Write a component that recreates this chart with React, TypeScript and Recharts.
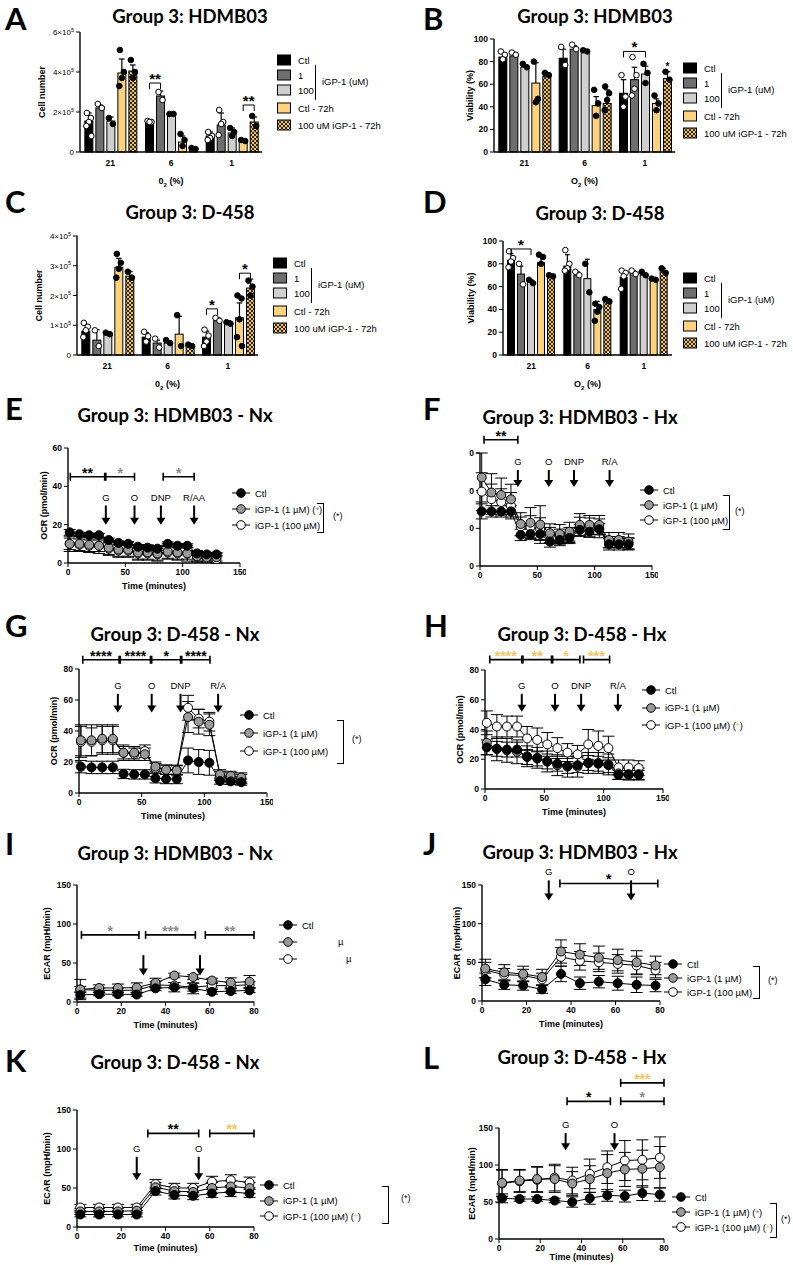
import React from 'react';
import { BarChart, Bar, LineChart, Line, XAxis, YAxis, ErrorBar, ReferenceLine } from 'recharts';

const AX = '"Liberation Sans", Arial, sans-serif';
const HEAD = 'Lato, "Open Sans", sans-serif';
const SIG_GREY = '#8a8a8a';
const SIG_ORANGE = '#f8c462';

// ---------- bar panels (A-D) ----------
const O2 = ['21', '6', '1'];
const BAR_NAMES = ['Ctl', '1', '100', 'Ctl - 72h', '100 uM iGP-1 - 72h'];
const BAR_FILLS = ['#000000', '#6e6e6e', '#cfcfcf', '#fdd27e', 'CHECK'];
const BAR_OPEN_DOTS = [true, true, false, false, false];

// A: cell number, units of 10^5 ; rows = series, cols = O2 groups
const A_MEAN = [[1.55, 1.5, 0.8], [2.2, 2.8, 1.35], [1.55, 1.9, 0.95], [3.95, 0.5, 0.55], [4.05, 0.15, 1.5]];
const A_SD = [[0.4, 0.08, 0.2], [0.15, 0.25, 0.6], [0.2, 0.05, 0.25], [0.7, 0.3, 0.05], [0.3, 0.05, 0.25]];
const A_PTS = [
  [[1.95, 1.7, 1.5, 1.3, 0.8], [1.55, 1.5, 1.5], [1.0, 0.8, 0.7, 0.6]],
  [[2.4, 2.2], [3.0, 2.6], [2.1, 1.5, 1.4, 0.85]],
  [[1.7, 1.4], [1.9, 1.9], [1.2, 1.0, 0.8]],
  [[5.1, 4.0, 3.7, 3.3], [0.9, 0.6, 0.3], [0.6, 0.55]],
  [[4.6, 4.0, 3.7], [0.2, 0.15], [1.8, 1.3]],
];
const A_SIG: [number, number, number, number, string][] = [[1, 0, 1, 3.45, '**'], [2, 3, 4, 2.35, '**']];

// B: viability %
const B_MEAN = [[84, 83, 52], [85, 91, 64], [75, 89, 69], [61, 41, 43], [67, 43, 65]];
const B_SD = [[4, 8, 12], [3, 3, 11], [2, 1, 7], [18, 8, 4], [1, 12, 6]];
const B_PTS = [
  [[89, 86, 82], [93, 77], [68, 49, 40]],
  [[88, 86], [95, 91], [84, 68, 56, 50]],
  [[78, 75], [90, 89], [78, 70, 61]],
  [[80, 47, 44], [55, 43, 32], [50, 43, 37]],
  [[70, 68], [58, 52, 46, 37], [71, 64]],
];
const B_SIG: [number, number, number, number, string][] = [[2, 0, 2, 89, '*'], [2, 4, 4, 76, '*']];

// C: cell number, units of 10^5
const C_MEAN = [[0.8, 0.6, 0.6], [0.5, 0.4, 1.15], [0.7, 0.4, 1.05], [2.95, 0.7, 1.25], [2.65, 0.3, 2.25]];
const C_SD = [[0.2, 0.15, 0.2], [0.35, 0.1, 0.1], [0.05, 0.05, 0.1], [0.3, 0.6, 0.5], [0.15, 0.05, 0.3]];
const C_PTS = [
  [[1.08, 0.95, 0.83, 0.6], [0.78, 0.63, 0.45], [0.85, 0.65, 0.45, 0.3]],
  [[0.83, 0.3], [0.55, 0.25], [1.25, 1.15]],
  [[0.75, 0.7], [0.5, 0.4], [1.1, 1.05]],
  [[3.4, 3.1, 2.9, 2.6], [1.34, 0.3], [2.0, 1.9, 1.2, 0.6, 0.3]],
  [[2.8, 2.6], [0.35, 0.3], [2.5, 2.3, 2.0]],
];
const C_SIG: [number, number, number, number, string][] = [[2, 0, 1, 1.55, '*'], [2, 3, 4, 2.75, '*']];

// D: viability %
const D_MEAN = [[83, 78, 68], [71, 70, 72], [64, 67, 70], [81, 40, 67], [69, 48, 73]];
const D_SD = [[6, 10, 5], [7, 3, 2], [2, 17, 2], [6, 7, 1], [1, 1, 3]];
const D_PTS = [
  [[91, 85, 82, 77], [92, 80, 76, 74], [74, 72, 69, 58]],
  [[80, 62], [73, 70], [74, 71]],
  [[66, 63], [80, 55], [73, 70]],
  [[88, 86, 80], [45, 42, 38, 30], [67, 66]],
  [[70, 69], [49, 47], [76, 72]],
];
const D_SIG: [number, number, number, number, string][] = [[0, 0, 2, 93, '*']];

// ---------- line panels (E-L) ----------
const T_OCR = [1.5, 10, 18.5, 27, 35.5, 44, 52.5, 61, 69.5, 78, 87, 95.5, 104, 112.5, 121, 129.5];
const T_ECAR = [1.5, 10, 18.5, 27, 35.5, 44, 52.5, 61, 69.5, 78];

const E_CTL = [16, 15, 14.5, 14.5, 12, 10.5, 10, 8.5, 8, 7.5, 10, 9, 9, 5, 4.5, 4.5];
const E_CTL_SD = [1.5, 1, 1, 1, 1, 1, 1, 1, 1, 1, 1, 1, 1, 1, 1, 1];
const E_G1 = [10, 10, 9.5, 9, 8, 7, 7, 5.5, 5.5, 5, 6, 5.5, 5, 3.5, 3, 3];
const E_G1_SD = [4, 4, 4, 4, 4, 4, 4, 4, 4, 4, 4, 4, 4, 3, 2, 2];
const E_G100 = [10, 9.5, 9, 9, 7.5, 6.5, 6.5, 5, 5, 4.5, 5.5, 5, 5, 3, 2.5, 2];
const E_G100_SD = [3, 3, 3, 3, 3, 3, 3, 3, 3, 3, 3, 3, 3, 2, 2, 2];

const F_CTL = [29, 29, 29, 29, 16.5, 17, 17, 13, 13.8, 14.9, 19.1, 18.2, 19.5, 11.5, 11.5, 11.5];
const F_CTL_SD = [4, 3, 3, 3, 3, 3, 3, 3, 3, 3, 3, 3, 3, 3, 3, 3];
const F_G1 = [47, 39, 37.7, 35.4, 22.3, 23, 22, 17.4, 17, 18.2, 21.8, 21.8, 21.8, 13.8, 13.8, 13];
const F_G1_SD = [13, 10, 9, 8, 6, 8, 10, 5, 5, 5, 6, 5, 5, 4, 4, 4];
const F_G100 = [39.5, 35.5, 34, 32, 21, 20.7, 19.6, 16.5, 15.6, 16.5, 20.9, 20.5, 20, 12.6, 12.6, 12];
const F_G100_SD = [10, 8, 7, 7, 5, 6, 6, 4, 4, 4, 5, 5, 5, 3, 3, 3];

const G_CTL = [17, 16.5, 16.5, 16.5, 12.3, 12, 12, 9.5, 9, 9, 21, 20, 19.5, 7.7, 7.5, 7];
const G_CTL_SD = [4, 4, 4, 4, 3, 3, 3, 3, 3, 3, 8, 8, 8, 2, 2, 2];
const G_G1 = [34, 34, 35, 35, 26, 26, 25, 17, 15, 14.5, 49, 46, 44, 12, 11, 10];
const G_G1_SD = [10, 10, 9, 9, 5, 4, 4, 3, 3, 3, 10, 8, 7, 3, 3, 3];
const G_G100 = [33, 33, 34, 34, 26, 25, 27, 16, 15, 15, 55, 48, 46, 11, 10, 9];
const G_G100_SD = [10, 9, 9, 9, 4, 4, 4, 3, 3, 3, 8, 6, 6, 3, 3, 3];

const H_CTL = [28, 27, 26.5, 26.5, 21.5, 20.5, 18.5, 17, 15.5, 16, 17.5, 17, 16, 9.5, 9.5, 9.5];
const H_CTL_SD = [5, 5, 5, 5, 5, 5, 5, 5, 5, 5, 5, 5, 5, 3, 3, 3];
const H_G1 = [31, 27, 26, 25, 22, 21, 18.5, 16, 15, 15, 17.5, 17.5, 16.5, 10.5, 10, 10];
const H_G1_SD = [8, 8, 8, 8, 7, 7, 7, 7, 7, 7, 7, 7, 7, 4, 4, 4];
const H_G100 = [44.5, 42, 42, 42, 34, 33, 30, 27.5, 24.5, 23.3, 30, 29, 27.5, 14.5, 14.5, 14];
const H_G100_SD = [8, 8, 7, 7, 8, 8, 8, 7, 6, 6, 10, 10, 8, 5, 5, 5];

const I_CTL = [9, 10, 10, 9.5, 17.5, 19, 17.5, 13, 14, 15];
const I_CTL_SD = [4, 2, 2, 2, 3, 6, 7, 3, 3, 3];
const I_G1 = [16, 18, 18, 18.5, 24.5, 34, 32, 27.5, 25, 26];
const I_G1_SD = [13, 4, 5, 6, 6, 3, 3, 3, 6, 8];
const I_G100 = [16, 15, 15, 15, 22, 21, 19, 21, 21, 22];
const I_G100_SD = [4, 3, 3, 3, 4, 4, 5, 3, 4, 4];

const J_CTL = [28, 21, 20, 15, 35, 23, 25, 23, 21, 20];
const J_CTL_SD = [8, 6, 6, 5, 10, 8, 8, 9, 10, 8];
const J_G1 = [42, 37, 35, 31, 64, 60, 56, 53, 50, 46];
const J_G1_SD = [12, 10, 10, 10, 15, 14, 15, 14, 15, 12];
const J_G100 = [40, 34, 33, 28, 57, 52, 50, 48, 46, 40];
const J_G100_SD = [10, 8, 8, 8, 12, 12, 12, 12, 12, 10];

const K_CTL = [16, 16, 16, 16, 46, 41, 40, 43, 45, 43];
const K_CTL_SD = [3, 3, 3, 3, 5, 5, 5, 5, 6, 5];
const K_G1 = [20, 20, 20, 21, 51, 46, 45, 50, 52, 50];
const K_G1_SD = [4, 4, 4, 4, 6, 6, 6, 7, 7, 7];
const K_G100 = [25, 25, 25, 25, 55, 50, 50, 58, 60, 57];
const K_G100_SD = [4, 4, 4, 4, 6, 6, 6, 7, 7, 7];

const L_CTL = [55, 54, 54, 52, 50, 55, 59, 58, 62, 60];
const L_CTL_SD = [6, 3, 3, 3, 7, 8, 8, 8, 10, 9];
const L_G1 = [76, 79, 81, 81, 75, 81, 89, 94, 95, 97];
const L_G1_SD = [18, 15, 17, 18, 16, 18, 25, 23, 25, 28];
const L_G100 = [75, 78, 80, 83, 79, 88, 97, 106, 107, 110];
const L_G100_SD = [18, 15, 17, 18, 18, 20, 22, 27, 27, 28];

// significance brackets: [t1, t2, y, label, colour]
type LSig = [number, number, number, string, string];
const E_SIG: LSig[] = [[2, 32, 45, '**', '#000'], [33, 58, 45, '*', SIG_GREY], [83, 110, 45, '*', SIG_GREY]];
const F_SIG: LSig[] = [[3.5, 33, 67, '**', '#000']];
const G_SIG: LSig[] = [[3, 32, 86, '****', '#000'], [33, 57, 86, '****', '#000'], [58, 81, 86, '*', '#000'], [82, 104.5, 86, '****', '#000']];
const H_SIG: LSig[] = [[4, 31, 87, '****', SIG_ORANGE], [32, 56, 87, '**', SIG_ORANGE], [57, 80, 87, '*', SIG_ORANGE], [83, 105, 87, '***', SIG_ORANGE]];
const I_SIG: LSig[] = [[2, 28, 86, '*', SIG_GREY], [31, 53.5, 86, '***', SIG_GREY], [58, 80, 86, '**', SIG_GREY]];
const J_SIG: LSig[] = [[35, 79, 152, '*', '#000']];
const K_SIG: LSig[] = [[32, 55, 120, '**', '#000'], [60, 80, 120, '**', SIG_ORANGE]];
const L_SIG: LSig[] = [[33, 54, 186, '*', '#000'], [59, 80, 186, '*', SIG_GREY], [59, 80, 211, '***', SIG_ORANGE]];

// injection arrows: [t, top, tip, label]
type Arr = [number, number, number, string];
const E_ARR: Arr[] = [[33, 30, 20, 'G'], [58, 30, 20, 'O'], [81, 30, 20, 'DNP'], [110, 30, 20, 'R/AA']];
const F_ARR: Arr[] = [[33, 51, 42, 'G'], [60, 51, 42, 'O'], [82, 51, 42, 'DNP'], [113, 51, 42, 'R/A']];
const G_ARR: Arr[] = [[31, 64, 52, 'G'], [58, 64, 52, 'O'], [81, 64, 52, 'DNP'], [111, 64, 52, 'R/A']];
const H_ARR: Arr[] = [[31, 64, 52, 'G'], [59, 64, 52, 'O'], [81, 64, 52, 'DNP'], [112, 64, 52, 'R/A']];
const I_ARR: Arr[] = [[30, 60, 34, ''], [55.6, 60, 34, '']];
const J_ARR: Arr[] = [[30, 156, 130, 'G'], [67, 156, 130, 'O']];
const K_ARR: Arr[] = [[27, 90, 60, 'G'], [55, 90, 60, 'O']];
const L_ARR: Arr[] = [[32.3, 143, 120, 'G'], [56, 143, 120, 'O']];

// ---------- shared bits ----------
const TICK = { fontSize: 8.5, fontWeight: 700, fill: '#000', fontFamily: AX };
const AXLINE = { stroke: '#000', strokeWidth: 1.4 };

function YTitle(props: any) {
  const vb = props.viewBox || { x: 0, y: 0, height: 0 };
  const x = vb.x + props.px;
  const y = vb.y + vb.height / 2;
  return (
    <text x={x} y={y} transform={`rotate(-90 ${x} ${y})`} textAnchor="middle" dominantBaseline="central"
      fontSize={9} fontWeight={700} fontFamily={AX} fill="#000">{props.text}</text>
  );
}

function XTitle(props: any) {
  const vb = props.viewBox || { x: 0, y: 0, width: 0 };
  const x = vb.x + vb.width / 2;
  const y = vb.y + props.dy;
  if (props.o2) {
    return (
      <text x={x} y={y} textAnchor="middle" fontSize={9} fontWeight={700} fontFamily={AX} fill="#000">
        {props.o2}<tspan fontSize={6} dy={3}>2</tspan><tspan dy={-3}> (%)</tspan>
      </text>
    );
  }
  return <text x={x} y={y} textAnchor="middle" fontSize={9} fontWeight={700} fontFamily={AX} fill="#000">{props.text}</text>;
}

function SciTick(props: any) {
  const { x, y, payload } = props;
  const v = payload.value;
  return (
    <text x={x} y={y} dy={3} textAnchor="end" fontSize={8} fontFamily={AX} fill="#000">
      {v === 0 ? '0' : `${v}×10`}{v !== 0 && <tspan dy={-3.5} fontSize={5.5}>5</tspan>}
    </text>
  );
}

function CheckPattern({ id }: { id: string }) {
  return (
    <pattern id={id} width={4} height={4} patternUnits="userSpaceOnUse">
      <rect width={4} height={4} fill="#f4bf55" />
      <rect x={0} y={0} width={2} height={2} fill="#2a2a3c" />
      <rect x={2} y={2} width={2} height={2} fill="#2a2a3c" />
    </pattern>
  );
}

const makeBarShape = (si: number, sigs: [number, number, number, number, string][], pid: string) => (p: any) => {
  const { x, y, width, height, payload } = p;
  const gi = O2.indexOf(payload.o2);
  const v = payload['m' + si];
  const k = v ? height / v : 0;
  const base = y + height;
  const cx = x + width / 2;
  const sd = payload['s' + si];
  const pts: number[] = payload['p' + si] || [];
  const fill = BAR_FILLS[si] === 'CHECK' ? `url(#chk-${pid})` : BAR_FILLS[si];
  const jit = [-2, 2, 0, -2.5, 2.5];
  const eTop = y - sd * k;
  const open = BAR_OPEN_DOTS[si];
  return (
    <g>
      <rect x={x} y={y} width={width} height={Math.max(height, 0)} fill={fill} stroke="#000" strokeWidth={1} />
      <line x1={cx} y1={y} x2={cx} y2={eTop} stroke="#000" strokeWidth={1.2} />
      <line x1={cx - width * 0.35} y1={eTop} x2={cx + width * 0.35} y2={eTop} stroke="#000" strokeWidth={1.2} />
      {pts.map((pv, i) => (
        <circle key={i} cx={cx + jit[i % 5]} cy={base - pv * k} r={2.8}
          fill={open ? '#fff' : '#000'} stroke="#000" strokeWidth={1} />
      ))}
      {sigs.filter(s => s[0] === gi && s[1] === si).map((s, i) => {
        const x2 = cx + (s[2] - s[1]) * (width + 3);
        const yb = base - s[3] * k;
        return (
          <g key={'s' + i}>
            {s[2] !== s[1] && (
              <path d={`M${cx},${yb + 6}V${yb}H${x2}V${yb + 6}`} stroke="#000" strokeWidth={1} fill="none" />
            )}
            <text x={(cx + x2) / 2} y={yb + (s[2] !== s[1] ? 1 : 4)} textAnchor="middle"
              fontSize={s[2] !== s[1] ? 15 : 10} fontWeight={700} fontFamily={AX} fill="#000">{s[4]}</text>
          </g>
        );
      })}
    </g>
  );
};

type BarPanelProps = {
  pid: string; plotL: number; plotT: number; plotR: number; plotB: number;
  mean: number[][]; sd: number[][]; pts: number[][][]; sigs: [number, number, number, number, string][];
  yMax: number; yTicks: number[]; sci: boolean; yTitle: string; yTitleX: number; o2: string;
};

function BarPanel(pp: BarPanelProps) {
  const YW = 48, XH = 40, TOPM = 12;
  const left = pp.plotL - YW;
  const top = pp.plotT - TOPM;
  const width = pp.plotR + 4 - left;
  const height = pp.plotB + XH - top;
  const rows = O2.map((o, g) => {
    const r: any = { o2: o };
    pp.mean.forEach((m, s) => {
      r['m' + s] = m[g];
      r['s' + s] = pp.sd[s][g];
      r['p' + s] = pp.pts[s][g];
    });
    return r;
  });
  return (
    <div style={{ position: 'absolute', left, top }}>
      <BarChart width={width} height={height} data={rows} barCategoryGap="8%" barGap={3}
        margin={{ top: TOPM, right: 4, bottom: 0, left: 0 }}>
        <defs><CheckPattern id={`chk-${pp.pid}`} /></defs>
        <XAxis dataKey="o2" height={XH} tick={TICK} tickLine={false} axisLine={AXLINE}
          label={<XTitle o2={pp.o2} dy={32} />} />
        <YAxis type="number" domain={[0, pp.yMax]} ticks={pp.yTicks} width={YW} interval={0}
          tick={pp.sci ? <SciTick /> : TICK} tickLine={{ stroke: '#000' }} tickSize={4} axisLine={AXLINE}
          label={<YTitle text={pp.yTitle} px={pp.yTitleX - left} />} />
        {BAR_NAMES.map((n, s) => (
          <Bar key={n} dataKey={'m' + s} name={n} isAnimationActive={false}
            shape={makeBarShape(s, pp.sigs, pp.pid)} />
        ))}
      </BarChart>
    </div>
  );
}

function BarLegend({ x, y, pid }: { x: number; y: number; pid: string }) {
  const offs = [0, 15, 30, 48, 65];
  return (
    <div style={{ position: 'absolute', left: x, top: y - 8, width: 120, height: 80, fontFamily: AX, fontSize: 9.5 }}>
      {BAR_NAMES.map((n, i) => (
        <div key={n} style={{ position: 'absolute', left: 0, top: offs[i], height: 16, display: 'flex', alignItems: 'center', whiteSpace: 'nowrap' }}>
          <svg width={15} height={12} style={{ marginRight: 6 }}>
            <defs><CheckPattern id={`lchk-${pid}`} /></defs>
            <rect x={0.5} y={1} width={13} height={10}
              fill={BAR_FILLS[i] === 'CHECK' ? `url(#lchk-${pid})` : BAR_FILLS[i]} stroke="#000" />
          </svg>
          {n}
        </div>
      ))}
      <div style={{ position: 'absolute', left: 38, top: 13, width: 0, height: 35, borderLeft: '1.5px solid #000' }} />
      <div style={{ position: 'absolute', left: 45, top: 24, whiteSpace: 'nowrap' }}>iGP-1 (uM)</div>
    </div>
  );
}

// ---------- line panel ----------
const arrowShape = (label: string) => (p: any) => {
  const { x1, y1, y2 } = p;
  return (
    <g>
      <line x1={x1} y1={y1} x2={x1} y2={y2 - 6} stroke="#000" strokeWidth={2} />
      <path d={`M${x1 - 4.5},${y2 - 7}L${x1 + 4.5},${y2 - 7}L${x1},${y2}Z`} fill="#000" />
      {label && <text x={x1} y={y1 - 5} textAnchor="middle" fontSize={9.5} fontFamily={AX} fill="#000">{label}</text>}
    </g>
  );
};

const bracketShape = (label: string, color: string) => (p: any) => {
  const { x1, x2, y1 } = p;
  return (
    <g>
      <path d={`M${x1},${y1 - 4}V${y1 + 4}M${x1},${y1}H${x2}M${x2},${y1 - 4}V${y1 + 4}`} stroke="#000" strokeWidth={1.6} fill="none" />
      <text x={(x1 + x2) / 2} y={y1 + 1} textAnchor="middle" fontSize={14} fontWeight={700} fontFamily={AX} fill={color}>{label}</text>
    </g>
  );
};

type LinePanelProps = {
  plotL: number; plotT: number; plotR: number; plotB: number; chartTop: number;
  xMax: number; xTicks: number[]; yMax: number; yTicks: number[]; zeroTicks?: boolean;
  yTitle?: string; yTitleX?: number; xTitle: boolean; xTitleDy?: number;
  t: number[]; ctl: number[]; ctlSd: number[]; g1: number[]; g1Sd: number[]; g100: number[]; g100Sd: number[];
  sigs: LSig[]; arrows: Arr[];
};

function LinePanel(pp: LinePanelProps) {
  const YW = 45, XH = 32;
  const left = pp.plotL - YW;
  const width = pp.plotR + 6 - left;
  const height = pp.plotB + XH - pp.chartTop;
  const rows = pp.t.map((tt, i) => ({
    t: tt, c: pp.ctl[i], ce: pp.ctlSd[i], g: pp.g1[i], ge: pp.g1Sd[i], w: pp.g100[i], we: pp.g100Sd[i],
  }));
  return (
    <div style={{ position: 'absolute', left, top: pp.chartTop }}>
      <LineChart width={width} height={height} data={rows}
        margin={{ top: pp.plotT - pp.chartTop, right: 6, bottom: 0, left: 0 }}>
        <XAxis dataKey="t" type="number" domain={[0, pp.xMax]} ticks={pp.xTicks} interval={0} height={XH}
          tick={TICK} tickLine={{ stroke: '#000' }} tickSize={4} axisLine={AXLINE}
          label={pp.xTitle ? <XTitle text="Time (minutes)" dy={pp.xTitleDy || 26} /> : undefined} />
        <YAxis type="number" domain={[0, pp.yMax]} ticks={pp.yTicks} interval={0} width={YW}
          tick={TICK} tickLine={{ stroke: '#000' }} tickSize={4} axisLine={AXLINE}
          tickFormatter={pp.zeroTicks ? () => '0' : undefined}
          label={pp.yTitle ? <YTitle text={pp.yTitle} px={(pp.yTitleX || 0) - left} /> : undefined} />
        {pp.sigs.map((s, i) => (
          <ReferenceLine key={'sig' + i} ifOverflow="visible"
            segment={[{ x: s[0], y: s[2] }, { x: s[1], y: s[2] }]} shape={bracketShape(s[3], s[4])} />
        ))}
        {pp.arrows.map((a, i) => (
          <ReferenceLine key={'arr' + i} ifOverflow="visible"
            segment={[{ x: a[0], y: a[1] }, { x: a[0], y: a[2] }]} shape={arrowShape(a[3])} />
        ))}
        <Line dataKey="w" stroke="#000" strokeWidth={1} isAnimationActive={false}
          dot={{ r: 4.5, fill: '#fff', stroke: '#000', strokeWidth: 1 }} activeDot={false}>
          <ErrorBar dataKey="we" width={6} stroke="#000" strokeWidth={1} direction="y" />
        </Line>
        <Line dataKey="g" stroke="#000" strokeWidth={1} isAnimationActive={false}
          dot={{ r: 4.5, fill: '#9a9a9a', stroke: '#000', strokeWidth: 1 }} activeDot={false}>
          <ErrorBar dataKey="ge" width={6} stroke="#000" strokeWidth={1} direction="y" />
        </Line>
        <Line dataKey="c" stroke="#000" strokeWidth={1} isAnimationActive={false}
          dot={{ r: 4.5, fill: '#000', stroke: '#000', strokeWidth: 1 }} activeDot={false}>
          <ErrorBar dataKey="ce" width={6} stroke="#000" strokeWidth={1} direction="y" />
        </Line>
      </LineChart>
    </div>
  );
}

const MARK_FILLS = ['#000', '#9a9a9a', '#fff'];

function LineLegend(pp: {
  x: number; y: number; gap: number; labels: React.ReactNode[];
  bracket?: { x: number; top: number; bottom: number; sx: number; sy: number };
}) {
  return (
    <>
      {pp.labels.map((lab, i) => (
        <div key={i} style={{
          position: 'absolute', left: pp.x, top: pp.y + i * pp.gap - 7, height: 14, display: 'flex',
          alignItems: 'center', whiteSpace: 'nowrap', fontFamily: AX, fontSize: 9.5,
        }}>
          <svg width={20} height={12} style={{ marginRight: 4 }}>
            <line x1={1} y1={6} x2={19} y2={6} stroke="#000" strokeWidth={1} />
            <circle cx={10} cy={6} r={4.3} fill={MARK_FILLS[i]} stroke="#000" strokeWidth={1} />
          </svg>
          {lab}
        </div>
      ))}
      {pp.bracket && (
        <>
          <div style={{
            position: 'absolute', left: pp.bracket.x - 6, top: pp.bracket.top, width: 6,
            height: pp.bracket.bottom - pp.bracket.top, borderTop: '1.5px solid #000',
            borderRight: '1.5px solid #000', borderBottom: '1.5px solid #000',
          }} />
          <div style={{ position: 'absolute', left: pp.bracket.sx, top: pp.bracket.sy - 6, fontFamily: AX, fontSize: 9 }}>(*)</div>
        </>
      )}
    </>
  );
}

const star = (c: string) => <span>&nbsp;(<span style={{ color: c }}>*</span>)</span>;

function Letter({ x, y, ch }: { x: number; y: number; ch: string }) {
  return (
    <div style={{ position: 'absolute', left: x, top: y, transform: 'translateY(-50%)', fontFamily: HEAD, fontWeight: 700, fontSize: 31, lineHeight: 1 }}>{ch}</div>
  );
}

function Title({ x, y, text }: { x: number; y: number; text: string }) {
  return (
    <div style={{ position: 'absolute', left: x, top: y, transform: 'translate(-50%, -50%)', fontFamily: HEAD, fontWeight: 700, fontSize: 18.5, whiteSpace: 'nowrap', lineHeight: 1 }}>{text}</div>
  );
}

export default function App() {
  return (
    <div style={{ position: 'absolute', left: 0, top: 0, width: 793, height: 1265, background: '#fff', overflow: 'hidden' }}>
      <Letter x={5} y={18} ch="A" />
      <Title x={190} y={16} text="Group 3: HDMB03" />
      <BarPanel pid="A" plotL={80} plotT={32} plotR={262} plotB={152} mean={A_MEAN} sd={A_SD} pts={A_PTS} sigs={A_SIG}
        yMax={6} yTicks={[0, 2, 4, 6]} sci yTitle="Cell number" yTitleX={42} o2="0" />
      <BarLegend x={277} y={60} pid="A" />

      <Letter x={423} y={18} ch="B" />
      <Title x={595} y={16} text="Group 3: HDMB03" />
      <BarPanel pid="B" plotL={494} plotT={39} plotR={675} plotB={152} mean={B_MEAN} sd={B_SD} pts={B_PTS} sigs={B_SIG}
        yMax={100} yTicks={[0, 20, 40, 60, 80, 100]} sci={false} yTitle="Viability (%)" yTitleX={470} o2="O" />
      <BarLegend x={683} y={68} pid="B" />

      <Letter x={5} y={201} ch="C" />
      <Title x={190} y={212} text="Group 3: D-458" />
      <BarPanel pid="C" plotL={77} plotT={236} plotR={258} plotB={355} mean={C_MEAN} sd={C_SD} pts={C_PTS} sigs={C_SIG}
        yMax={4} yTicks={[0, 1, 2, 3, 4]} sci yTitle="Cell number" yTitleX={39} o2="0" />
      <BarLegend x={273} y={263} pid="C" />

      <Letter x={423} y={201} ch="D" />
      <Title x={600} y={213} text="Group 3: D-458" />
      <BarPanel pid="D" plotL={503} plotT={241} plotR={672} plotB={355} mean={D_MEAN} sd={D_SD} pts={D_PTS} sigs={D_SIG}
        yMax={100} yTicks={[0, 20, 40, 60, 80, 100]} sci={false} yTitle="Viability (%)" yTitleX={471} o2="O" />
      <BarLegend x={683} y={278} pid="D" />

      <Letter x={5} y={408} ch="E" />
      <Title x={175} y={415} text="Group 3: HDMB03 - Nx" />
      <LinePanel plotL={68} plotT={448} plotR={240} plotB={563} chartTop={425} xMax={150} xTicks={[0, 50, 100, 150]}
        yMax={60} yTicks={[0, 20, 40, 60]} yTitle="OCR (pmol/min)" yTitleX={44} xTitle
        t={T_OCR} ctl={E_CTL} ctlSd={E_CTL_SD} g1={E_G1} g1Sd={E_G1_SD} g100={E_G100} g100Sd={E_G100_SD}
        sigs={E_SIG} arrows={E_ARR} />
      <LineLegend x={231} y={493} gap={16}
        labels={['Ctl', <span>iGP-1 (1 µM){star(SIG_GREY)}</span>, 'iGP-1 (100 µM)']}
        bracket={{ x: 323, top: 503, bottom: 531, sx: 333, sy: 517 }} />

      <Letter x={423} y={408} ch="F" />
      <Title x={580} y={417} text="Group 3: HDMB03 - Hx" />
      <LinePanel plotL={480} plotT={453} plotR={652} plotB={566} chartTop={425} xMax={150} xTicks={[0, 50, 100, 150]}
        yMax={60} yTicks={[0, 20, 40, 60]} zeroTicks xTitle={false}
        t={T_OCR} ctl={F_CTL} ctlSd={F_CTL_SD} g1={F_G1} g1Sd={F_G1_SD} g100={F_G100} g100Sd={F_G100_SD}
        sigs={F_SIG} arrows={F_ARR} />
      <LineLegend x={639} y={490} gap={15} labels={['Ctl', 'iGP-1 (1 µM)', 'iGP-1 (100 µM)']}
        bracket={{ x: 729, top: 495, bottom: 528, sx: 735, sy: 512 }} />

      <Letter x={5} y={625} ch="G" />
      <Title x={175} y={634} text="Group 3: D-458 - Nx" />
      <LinePanel plotL={79} plotT={669} plotR={267} plotB={793} chartTop={640} xMax={150} xTicks={[0, 50, 100, 150]}
        yMax={80} yTicks={[0, 20, 40, 60, 80]} yTitle="OCR (pmol/min)" yTitleX={54} xTitle
        t={T_OCR} ctl={G_CTL} ctlSd={G_CTL_SD} g1={G_G1} g1Sd={G_G1_SD} g100={G_G100} g100Sd={G_G100_SD}
        sigs={G_SIG} arrows={G_ARR} />
      <LineLegend x={239} y={715} gap={18} labels={['Ctl', ' iGP-1 (1 µM)', 'iGP-1 (100 µM)']}
        bracket={{ x: 343, top: 720, bottom: 762, sx: 352, sy: 740 }} />

      <Letter x={424} y={625} ch="H" />
      <Title x={582} y={634} text="Group 3: D-458 - Hx" />
      <LinePanel plotL={485} plotT={670} plotR={663} plotB={789} chartTop={640} xMax={150} xTicks={[0, 50, 100, 150]}
        yMax={80} yTicks={[0, 20, 40, 60, 80]} yTitle="OCR (pmol/min)" yTitleX={460} xTitle
        t={T_OCR} ctl={H_CTL} ctlSd={H_CTL_SD} g1={H_G1} g1Sd={H_G1_SD} g100={H_G100} g100Sd={H_G100_SD}
        sigs={H_SIG} arrows={H_ARR} />
      <LineLegend x={641} y={690} gap={17.5}
        labels={['Ctl', 'iGP-1 (1 µM)', <span>iGP-1 (100 µM){star(SIG_ORANGE)}</span>]} />

      <Letter x={5} y={843} ch="I" />
      <Title x={175} y={853} text="Group 3: HDMB03 - Nx" />
      <LinePanel plotL={77} plotT={885} plotR={254} plotB={1002} chartTop={865} xMax={80} xTicks={[0, 20, 40, 60, 80]}
        yMax={150} yTicks={[0, 50, 100, 150]} yTitle="ECAR (mpH/min)" yTitleX={47} xTitle
        t={T_ECAR} ctl={I_CTL} ctlSd={I_CTL_SD} g1={I_G1} g1Sd={I_G1_SD} g100={I_G100} g100Sd={I_G100_SD}
        sigs={I_SIG} arrows={I_ARR} />
      <LineLegend x={278} y={925} gap={17} labels={['Ctl', '', '']} />
      <div style={{ position: 'absolute', left: 338, top: 936, fontFamily: AX, fontSize: 9.5 }}>µ</div>
      <div style={{ position: 'absolute', left: 346, top: 953, fontFamily: AX, fontSize: 9.5 }}>µ</div>

      <Letter x={423} y={843} ch="J" />
      <Title x={580} y={852} text="Group 3: HDMB03 - Hx" />
      <LinePanel plotL={482} plotT={885} plotR={660} plotB={1001} chartTop={860} xMax={80} xTicks={[0, 20, 40, 60, 80]}
        yMax={150} yTicks={[0, 50, 100, 150]} yTitle="ECAR (mpH/min)" yTitleX={457} xTitle
        t={T_ECAR} ctl={J_CTL} ctlSd={J_CTL_SD} g1={J_G1} g1Sd={J_G1_SD} g100={J_G100} g100Sd={J_G100_SD}
        sigs={J_SIG} arrows={J_ARR} />
      <LineLegend x={663} y={964} gap={14} labels={['Ctl', 'iGP-1 (1 µM)', 'iGP-1 (100 µM)']}
        bracket={{ x: 759, top: 966, bottom: 997, sx: 768, sy: 981 }} />

      <Letter x={5} y={1060} ch="K" />
      <Title x={175} y={1062} text="Group 3: D-458 - Nx" />
      <LinePanel plotL={77} plotT={1110} plotR={254} plotB={1227} chartTop={1085} xMax={80} xTicks={[0, 20, 40, 60, 80]}
        yMax={150} yTicks={[0, 50, 100, 150]} yTitle="ECAR (mpH/min)" yTitleX={47} xTitle xTitleDy={24}
        t={T_ECAR} ctl={K_CTL} ctlSd={K_CTL_SD} g1={K_G1} g1Sd={K_G1_SD} g100={K_G100} g100Sd={K_G100_SD}
        sigs={K_SIG} arrows={K_ARR} />
      <LineLegend x={259} y={1185} gap={15.5}
        labels={['Ctl', 'iGP-1 (1 µM)', <span>iGP-1 (100 µM){star(SIG_ORANGE)}</span>]}
        bracket={{ x: 388, top: 1186, bottom: 1222, sx: 401, sy: 1199 }} />

      <Letter x={423} y={1057} ch="L" />
      <Title x={582} y={1057} text="Group 3: D-458 - Hx" />
      <LinePanel plotL={499} plotT={1128} plotR={664} plotB={1239} chartTop={1070} xMax={80} xTicks={[0, 20, 40, 60, 80]}
        yMax={150} yTicks={[0, 50, 100, 150]} yTitle="ECAR (mpH/min)" yTitleX={472} xTitle xTitleDy={21}
        t={T_ECAR} ctl={L_CTL} ctlSd={L_CTL_SD} g1={L_G1} g1Sd={L_G1_SD} g100={L_G100} g100Sd={L_G100_SD}
        sigs={L_SIG} arrows={L_ARR} />
      <LineLegend x={671} y={1197} gap={15}
        labels={['Ctl', <span>iGP-1 (1 µM){star(SIG_GREY)}</span>, <span>iGP-1 (100 µM){star(SIG_ORANGE)}</span>]}
        bracket={{ x: 776, top: 1203, bottom: 1236, sx: 781, sy: 1220 }} />
    </div>
  );
}
